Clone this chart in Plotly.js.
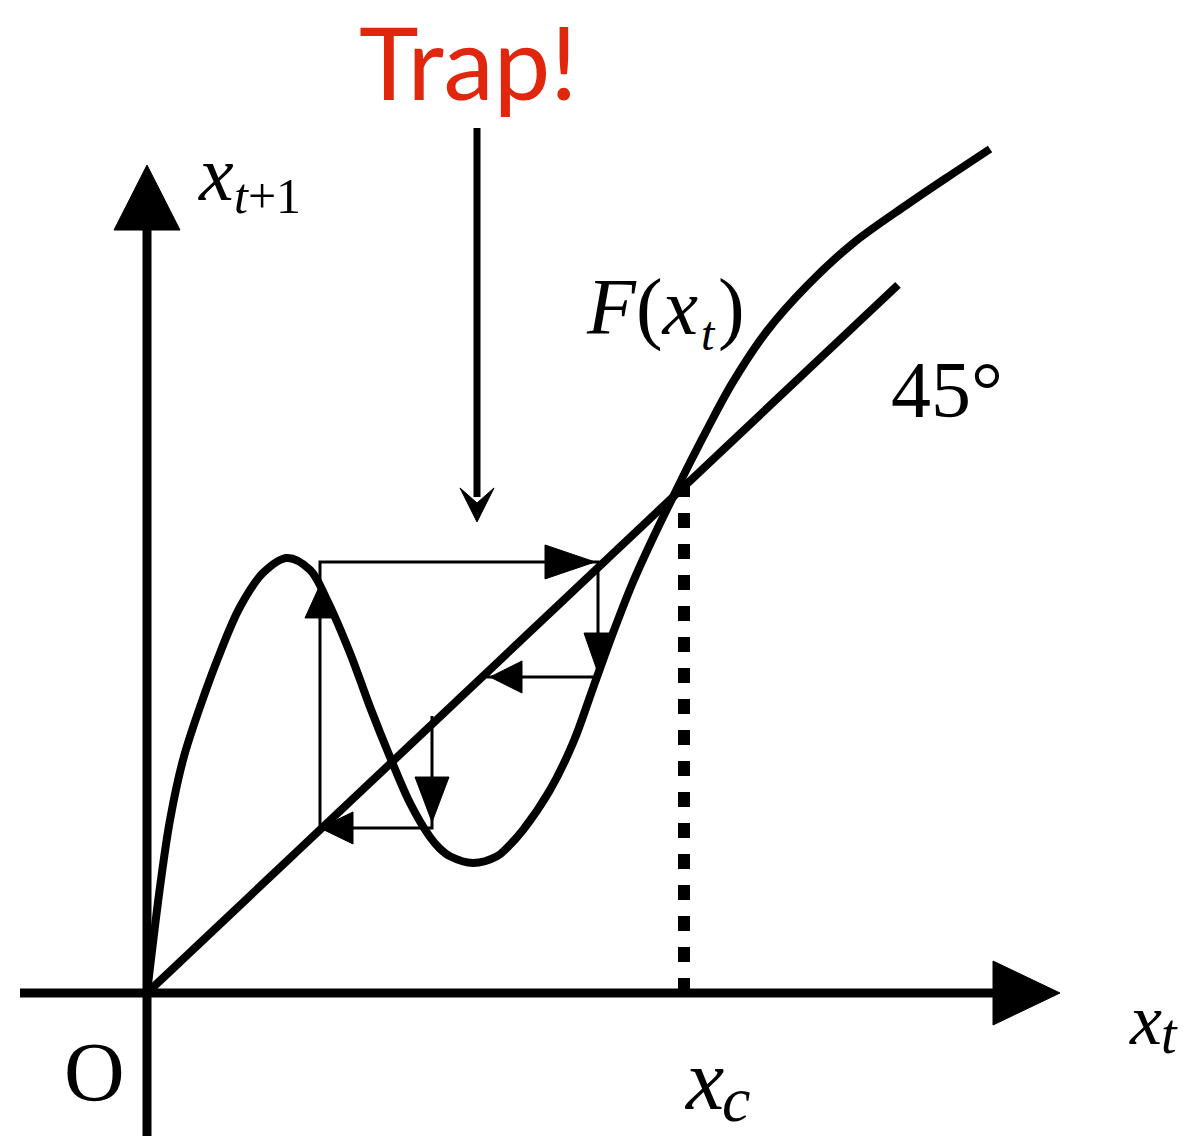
<!DOCTYPE html>
<html>
<head>
<meta charset="utf-8">
<script src="https://cdn.plot.ly/plotly-3.0.1.min.js"></script>
<style>
  html, body { margin: 0; padding: 0; background: #ffffff; }
  #chart { width: 1187px; height: 1136px; }
</style>
</head>
<body>
<div id="chart"></div>
<script>
// Map x_{t+1} = F(x_t), in units where the 45-degree line is y = x.
const curveX = [0, 0.13, 0.23, 0.36, 0.53, 0.73, 0.93, 1.16, 1.40, 1.63, 1.80, 2.03, 2.23,
                2.43, 2.63, 2.83, 2.93, 3.03, 3.26, 3.50, 3.60, 3.76, 4.03, 4.26, 4.46, 4.66,
                4.86, 5.06, 5.26, 5.43, 5.60, 5.86, 6.20, 6.60, 7.06, 7.60, 8.06, 8.43];
const curveY = [0, 1.124, 1.835, 2.471, 3.033, 3.606, 4.093, 4.454, 4.613, 4.486, 4.168,
                3.606, 3.033, 2.503, 2.015, 1.654, 1.530, 1.450, 1.379, 1.450, 1.540, 1.729,
                2.153, 2.651, 3.234, 3.818, 4.358, 4.825, 5.260, 5.625, 5.975, 6.480, 7.020,
                7.500, 7.950, 8.360, 8.690, 8.950];

// 45-degree line
const diagonalX = [0, 7.51];
const diagonalY = [0, 7.51];

// Critical point x_c and the dotted guide up to the crossing
const criticalX = 5.37;
const criticalTop = 5.41;

// Cobweb iteration path (null breaks the path)
const cobwebX = [1.73, 1.73, 4.51, 4.51, 3.40, null, 2.85, 2.85, 1.73];
const cobwebY = [1.75, 4.571, 4.571, 3.351, 3.351, null, 2.937, 1.750, 1.750];

// Direction markers along the cobweb
const arrowTipX = [1.73, 4.48, 4.51, 3.43, 2.85, 1.73];
const arrowTipY = [4.327, 4.571, 3.393, 3.351, 1.813, 1.750];
const arrowDir  = ['up', 'right', 'down', 'left', 'down', 'left'];

// "Trap!" pointer
const trapX = 3.30;
const trapFromY = 9.173;
const trapToY = 4.995;

// Axis extents
const xAxisFrom = -1.27, xAxisTip = 9.13;
const yAxisFrom = -1.52, yAxisTip = 8.78;

// ---------------------------------------------------------------------------
const W = 1187, H = 1136;
const X_RANGE = [-1.47, 10.40];
const Y_RANGE = [-1.5164, 10.530];
const PX_X = W / (X_RANGE[1] - X_RANGE[0]);
const PX_Y = H / (Y_RANGE[1] - Y_RANGE[0]);

const DIRS = { up: [0, 1], down: [0, -1], right: [1, 0], left: [-1, 0] };

// Filled arrowhead with its tip at (tx, ty); sizes in screen pixels.
function headPolygon(tx, ty, dir, len, half, notch) {
  const [ux, uy] = DIRS[dir];
  const bx = tx - ux * len / PX_X, by = ty - uy * len / PX_Y;
  const nx = -uy, ny = ux;
  const p1x = bx + nx * half / PX_X, p1y = by + ny * half / PX_Y;
  const p2x = bx - nx * half / PX_X, p2y = by - ny * half / PX_Y;
  const kx = tx - ux * (len - notch) / PX_X, ky = ty - uy * (len - notch) / PX_Y;
  return { x: [tx, p1x, kx, p2x, tx], y: [ty, p1y, ky, p2y, ty] };
}

function headTrace(poly) {
  return {
    x: poly.x, y: poly.y, type: 'scatter', mode: 'lines',
    fill: 'toself', fillcolor: '#000000',
    line: { color: '#000000', width: 1 }, hoverinfo: 'skip', showlegend: false
  };
}

const BLACK = '#000000';
const traces = [];

// axes
traces.push({ x: [xAxisFrom, xAxisTip - 60 / PX_X], y: [0, 0], type: 'scatter', mode: 'lines',
  line: { color: BLACK, width: 9 }, hoverinfo: 'skip', showlegend: false });
traces.push({ x: [0, 0], y: [yAxisFrom, yAxisTip - 58 / PX_Y], type: 'scatter', mode: 'lines',
  line: { color: BLACK, width: 9 }, hoverinfo: 'skip', showlegend: false });
traces.push(headTrace(headPolygon(xAxisTip, 0, 'right', 67, 32, 0)));
traces.push(headTrace(headPolygon(0, yAxisTip, 'up', 65, 33, 0)));

// dotted guide at x_c
traces.push({ x: [criticalX, criticalX], y: [0, criticalTop], type: 'scatter', mode: 'lines',
  line: { color: BLACK, width: 12, dash: '15px,16px' }, hoverinfo: 'skip', showlegend: false });

// 45-degree line
traces.push({ x: diagonalX, y: diagonalY, type: 'scatter', mode: 'lines',
  line: { color: BLACK, width: 8 }, hoverinfo: 'skip', showlegend: false });

// F(x_t)
traces.push({ x: curveX, y: curveY, type: 'scatter', mode: 'lines',
  line: { color: BLACK, width: 8, shape: 'spline', smoothing: 1.0, simplify: false },
  hoverinfo: 'skip', showlegend: false });

// cobweb
traces.push({ x: cobwebX, y: cobwebY, type: 'scatter', mode: 'lines',
  line: { color: BLACK, width: 3 }, connectgaps: false, hoverinfo: 'skip', showlegend: false });

const headSize = [[33, 15], [50, 17], [40, 14], [32, 16], [45, 17], [33, 16]];
arrowTipX.forEach((tx, i) => {
  traces.push(headTrace(headPolygon(tx, arrowTipY[i], arrowDir[i], headSize[i][0], headSize[i][1], 0)));
});

// Trap! pointer
traces.push({ x: [trapX, trapX], y: [trapFromY, trapToY + 25 / PX_Y], type: 'scatter', mode: 'lines',
  line: { color: BLACK, width: 7 }, hoverinfo: 'skip', showlegend: false });
traces.push(headTrace(headPolygon(trapX, trapToY, 'down', 34, 17, 15)));

const SERIF = 'Liberation Serif, Times New Roman, serif';
function label(x, y, text, size, family, color) {
  return { x: x, y: y, xref: 'x', yref: 'y', text: text, showarrow: false,
    xanchor: 'left', yanchor: 'middle', borderpad: 0,
    font: { family: family || SERIF, size: size, color: color || BLACK } };
}

const annotations = [
  label(2.11, 9.88, 'Trap!', 101, 'Lato, sans-serif', '#e0260c'),
  label(0.50, 8.688, '<i>x</i>', 78),
  label(0.86, 8.454, '<i>t</i>+1', 50),
  label(4.38, 7.264, '<i>F</i>(<i>x</i>', 80),
  label(5.53, 6.995, '<i>t</i>', 48),
  label(5.70, 7.264, ')', 80),
  label(7.43, 6.394, '45°', 80),
  label(-0.84, -0.845, 'O', 84),
  label(9.81, -0.283, '<i>x</i>', 72),
  label(10.13, -0.435, '<i>t</i>', 56),
  label(5.36, -0.923, '<i>x</i>', 86),
  label(5.74, -1.128, '<i>c</i>', 64)
];

const layout = {
  width: W, height: H, autosize: false,
  margin: { l: 0, r: 0, t: 0, b: 0, pad: 0 },
  paper_bgcolor: '#ffffff', plot_bgcolor: '#ffffff',
  showlegend: false,
  xaxis: { range: X_RANGE, visible: false, fixedrange: true },
  yaxis: { range: Y_RANGE, visible: false, fixedrange: true },
  annotations: annotations
};

Plotly.newPlot('chart', traces, layout, { staticPlot: true, displayModeBar: false });
</script>
</body>
</html>
